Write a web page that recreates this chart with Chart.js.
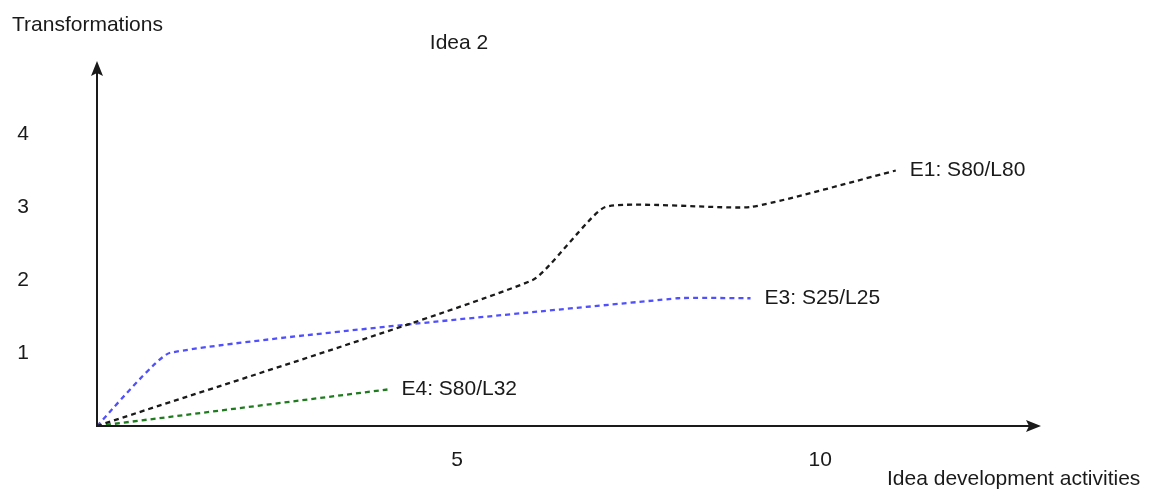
<!DOCTYPE html>
<html>
<head>
<meta charset="utf-8">
<script src="https://cdn.jsdelivr.net/npm/chart.js@4/dist/chart.umd.min.js"></script>
<style>
  html, body { margin: 0; padding: 0; background: #fff; }
  #wrap { width: 1155px; height: 492px; position: relative; }
</style>
</head>
<body>
<div id="wrap"><canvas id="chart"></canvas></div>
<script>
// ---- data ----
const e1X = [0, 6, 7, 9, 11];
const e1Y = [0, 2, 3, 3, 3.5];
const e3X = [0, 1, 8, 9];
const e3Y = [0, 1, 1.75, 1.75];
const e4X = [0, 4];
const e4Y = [0, 0.5];
const seriesNames = ['E1: S80/L80', 'E3: S25/L25', 'E4: S80/L32'];
const xTicksShown = [5, 10];
const yTicksShown = [1, 2, 3, 4];

const chartFont = "'Liberation Sans', Arial, sans-serif";
const inkColor = '#1a1a1a';

function pts(xs, ys) {
    return xs.map((x, i) => ({ x, y: ys[i] }));
}

// axes with arrow heads, titles and series labels
const decorPlugin = {
    id: 'decor',
    afterDatasetsDraw(chart) {
        const { ctx, chartArea: a, scales } = chart;
        const x0 = scales.x.getPixelForValue(0);
        const y0 = scales.y.getPixelForValue(0);
        ctx.save();
        ctx.strokeStyle = inkColor;
        ctx.fillStyle = inkColor;
        ctx.lineWidth = 2;

        // y axis
        ctx.beginPath();
        ctx.moveTo(x0, y0 + 1);
        ctx.lineTo(x0, a.top + 10);
        ctx.stroke();
        ctx.beginPath();
        ctx.moveTo(x0, a.top);
        ctx.lineTo(x0 + 6, a.top + 15);
        ctx.lineTo(x0, a.top + 12);
        ctx.lineTo(x0 - 6, a.top + 15);
        ctx.closePath();
        ctx.fill();

        // x axis
        ctx.beginPath();
        ctx.moveTo(x0 - 1, y0);
        ctx.lineTo(a.right - 10, y0);
        ctx.stroke();
        ctx.beginPath();
        ctx.moveTo(a.right, y0);
        ctx.lineTo(a.right - 15, y0 - 6);
        ctx.lineTo(a.right - 12, y0);
        ctx.lineTo(a.right - 15, y0 + 6);
        ctx.closePath();
        ctx.fill();

        // texts
        ctx.font = '21px ' + chartFont;
        ctx.textBaseline = 'alphabetic';
        ctx.textAlign = 'left';
        ctx.fillText('Transformations', 12, 31);
        ctx.fillText('Idea development activities', 887, 485);
        ctx.textAlign = 'center';
        ctx.fillText('Idea 2', 459, 49);

        // series labels at last point
        ctx.textAlign = 'left';
        ctx.textBaseline = 'middle';
        chart.data.datasets.forEach((ds, i) => {
            const meta = chart.getDatasetMeta(i);
            const last = meta.data[meta.data.length - 1];
            ctx.fillText(seriesNames[i], last.x + 14, last.y);
        });
        ctx.restore();
    }
};

const dashed = (color, tension) => ({
    borderColor: color,
    borderWidth: 2.3,
    borderDash: [5, 4],
    pointRadius: 0,
    fill: false,
    tension
});

function noOverhang(scale) {
    scale.paddingTop = 0;
    scale.paddingBottom = 0;
    scale.paddingLeft = 0;
    scale.paddingRight = 0;
}

new Chart(document.getElementById('chart'), {
    type: 'line',
    data: {
        datasets: [
            { label: seriesNames[0], data: pts(e1X, e1Y), ...dashed('#1a1a1a', 0.15) },
            { label: seriesNames[1], data: pts(e3X, e3Y), ...dashed('#5050ff', 0.12) },
            { label: seriesNames[2], data: pts(e4X, e4Y), ...dashed('#1e7b1e', 0) }
        ]
    },
    options: {
        responsive: true,
        maintainAspectRatio: false,
        animation: false,
        layout: { padding: { left: 17, right: 114, top: 61, bottom: 0 } },
        plugins: {
            legend: { display: false },
            tooltip: { enabled: false }
        },
        scales: {
            x: {
                type: 'linear',
                min: 0,
                max: 13,
                border: { display: false },
                grid: { display: false, drawTicks: false },
                afterFit(scale) { scale.height = 66; noOverhang(scale); },
                ticks: {
                    stepSize: 5,
                    padding: 22,
                    labelOffset: -3,
                    color: inkColor,
                    font: { family: chartFont, size: 21 },
                    callback: v => xTicksShown.includes(v) ? String(v) : ''
                }
            },
            y: {
                min: 0,
                max: 5,
                border: { display: false },
                grid: { display: false, drawTicks: false },
                afterFit(scale) { scale.width = 80; noOverhang(scale); },
                ticks: {
                    stepSize: 1,
                    padding: 68,
                    color: inkColor,
                    font: { family: chartFont, size: 21 },
                    callback: v => yTicksShown.includes(v) ? String(v) : ''
                }
            }
        }
    },
    plugins: [decorPlugin]
});
</script>
</body>
</html>
